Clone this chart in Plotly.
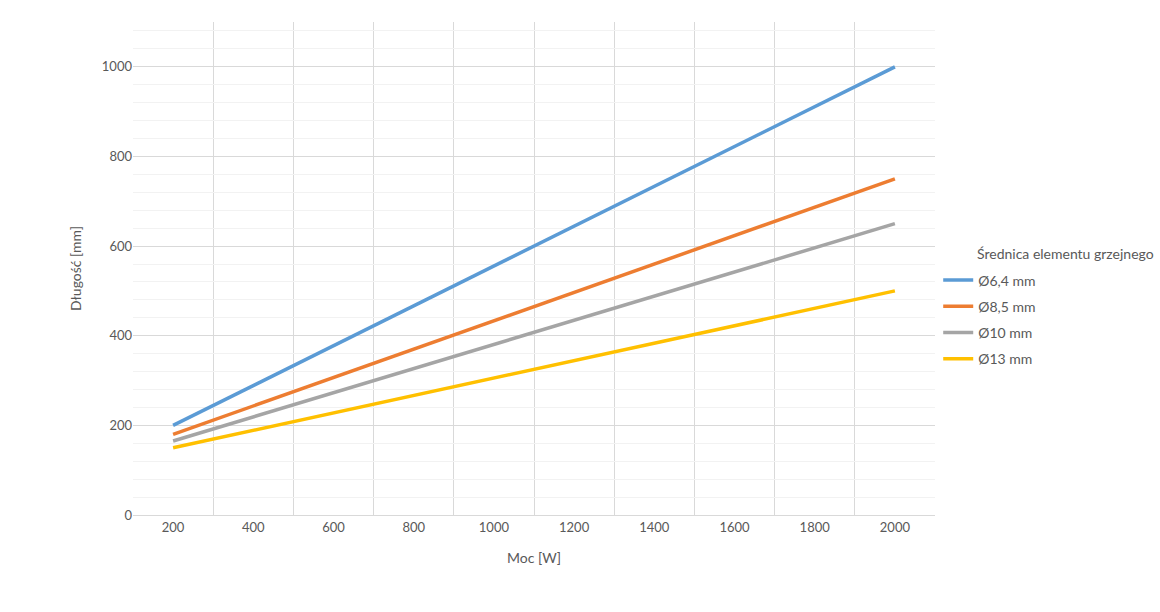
import plotly.graph_objects as go

power_w = [200, 2000]
series_names = ["Ø6,4 mm", "Ø8,5 mm", "Ø10 mm", "Ø13 mm"]
len_64 = [200, 1000]
len_85 = [180, 750]
len_10 = [165, 650]
len_13 = [150, 500]
colors = ["#5B9BD5", "#ED7D31", "#A5A5A5", "#FFC000"]
x_tick_vals = [200, 400, 600, 800, 1000, 1200, 1400, 1600, 1800, 2000]
y_tick_vals = [0, 200, 400, 600, 800, 1000]
legend_title = "Średnica elementu grzejnego"

FONT = "Lato, 'Open Sans', sans-serif"
TXT = "#595959"

fig = go.Figure()
for i, (name, vals) in enumerate(zip(series_names, [len_64, len_85, len_10, len_13])):
    fig.add_trace(go.Scatter(
        x=power_w, y=vals, mode="lines", name=name,
        line=dict(color=colors[i], width=3.5),
        legendgroup=f"g{i}",
    ))

fig.add_annotation(
    text=legend_title, xref="paper", yref="paper",
    x=(975 - 133) / 802, xanchor="left", y=(515 - 253) / 493, yanchor="middle",
    showarrow=False, font=dict(family=FONT, size=14, color=TXT),
)

fig.update_layout(
    width=1160, height=612,
    margin=dict(l=133, r=225, t=22, b=97),
    paper_bgcolor="white", plot_bgcolor="white",
    font=dict(family=FONT, size=13, color=TXT),
    showlegend=True,
    legend=dict(
        x=1.004, xanchor="left", y=(515 - 264.5) / 493, yanchor="top",
        tracegroupgap=5, font=dict(size=14, color=TXT),
        bgcolor="rgba(0,0,0,0)",
    ),
    xaxis=dict(
        range=[100, 2100], tickvals=x_tick_vals, showgrid=False,
        showline=True, linecolor="#d9d9d9", linewidth=1, zeroline=False,
        ticks="", tickfont=dict(size=13, color=TXT),
        minor=dict(tick0=100, dtick=200, showgrid=True, gridcolor="#d9d9d9", gridwidth=1),
        title=dict(text="Moc [W]", font=dict(size=14, color=TXT), standoff=19),
    ),
    yaxis=dict(
        range=[0, 1100], tickvals=y_tick_vals, showgrid=True, gridcolor="#d9d9d9",
        gridwidth=1, zeroline=False, showline=False, ticks="",
        tickfont=dict(size=13, color=TXT),
        minor=dict(tick0=0, dtick=40, showgrid=True, gridcolor="#f2f2f2", gridwidth=1),
        title=dict(text="Długość [mm]", font=dict(size=14, color=TXT), standoff=16),
    ),
)

fig.write_html("out.html")
